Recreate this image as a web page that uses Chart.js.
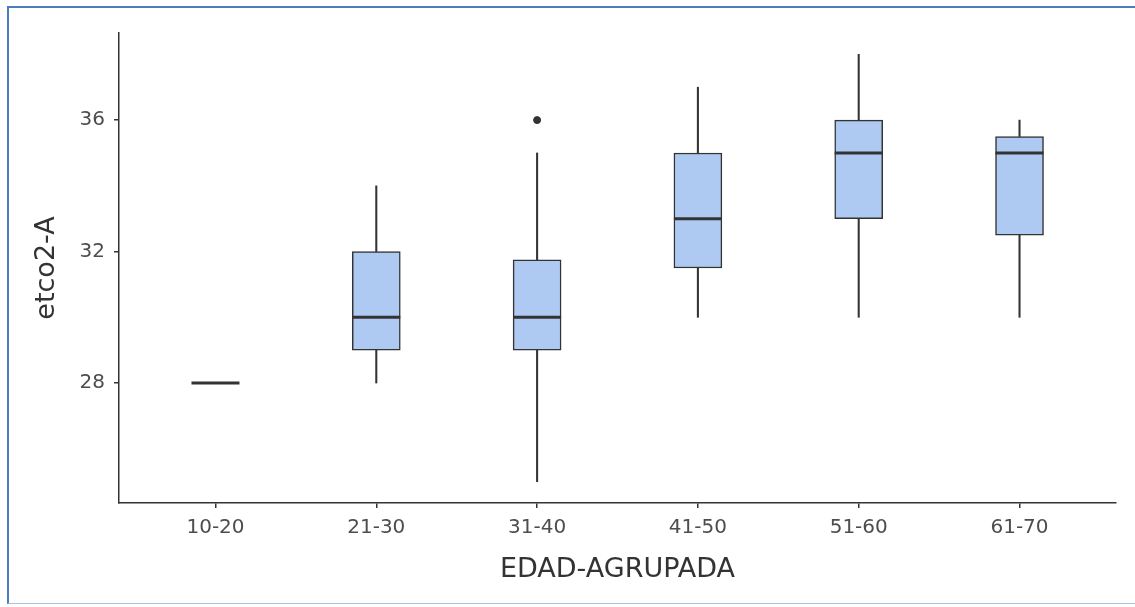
<!DOCTYPE html>
<html>
<head>
    <title>etco2-A por edad</title>
    <script src="https://cdn.jsdelivr.net/npm/chart.js"></script>
    <style>
        body {
            margin: 0;
            background: white;
        }
        .frame {
            position: absolute;
            left: 7px;
            top: 6px;
            width: 1128px;
            height: 598px;
            border-top: 2px solid #4a7ebb;
            border-left: 2px solid #4a7ebb;
            border-bottom: 1px solid #a9c4e2;
            box-sizing: border-box;
        }
        canvas {
            position: absolute;
            left: 0;
            top: 0;
        }
    </style>
</head>
<body>
    <div class="frame"></div>
    <canvas id="boxChart" width="1135" height="607"></canvas>
    <script>
        const grupos = ['10-20', '21-30', '31-40', '41-50', '51-60', '61-70'];
        const bigoteMin = [28, 28, 25, 30, 30, 30];
        const q1 = [28, 29, 29, 31.5, 33, 32.5];
        const mediana = [28, 30, 30, 33, 35, 35];
        const q3 = [28, 32, 31.75, 35, 36, 35.5];
        const bigoteMax = [28, 34, 35, 37, 38, 36];
        const atipicos = [{ grupo: '31-40', valor: 36 }];
        const yTicks = [28, 32, 36];

        const xPos = grupos.map((g, i) => i + 1);
        const ink = '#333333';

        // medianas: se dibujan encima de las cajas usando las escalas del grafico
        const medianPlugin = {
            id: 'medianas',
            afterDatasetsDraw(chart) {
                const ctx = chart.ctx;
                const xs = chart.scales.x, ys = chart.scales.y;
                const meta = chart.getDatasetMeta(2);
                ctx.save();
                ctx.strokeStyle = ink;
                ctx.lineWidth = 3;
                mediana.forEach((m, i) => {
                    const bar = meta.data[i];
                    const half = bar.width / 2;
                    const x = xs.getPixelForValue(xPos[i]);
                    const y = ys.getPixelForValue(m);
                    ctx.beginPath();
                    ctx.moveTo(x - half, y);
                    ctx.lineTo(x + half, y);
                    ctx.stroke();
                });
                ctx.restore();
            }
        };

        new Chart(document.getElementById('boxChart'), {
            type: 'bar',
            data: {
                datasets: [
                    {
                        label: 'bigote inferior',
                        data: xPos.map((x, i) => ({ x: x, y: [bigoteMin[i], q1[i]] })),
                        backgroundColor: ink,
                        barThickness: 1.4,
                        grouped: false,
                        order: 3
                    },
                    {
                        label: 'bigote superior',
                        data: xPos.map((x, i) => ({ x: x, y: [q3[i], bigoteMax[i]] })),
                        backgroundColor: ink,
                        barThickness: 1.4,
                        grouped: false,
                        order: 2
                    },
                    {
                        label: 'caja',
                        data: xPos.map((x, i) => ({ x: x, y: [q1[i], q3[i]] })),
                        backgroundColor: '#aec9f2',
                        borderColor: ink,
                        borderWidth: 1.5,
                        borderSkipped: false,
                        barThickness: 48,
                        grouped: false,
                        order: 1
                    },
                    {
                        type: 'scatter',
                        label: 'atipicos',
                        data: atipicos.map(a => ({ x: grupos.indexOf(a.grupo) + 1, y: a.valor })),
                        backgroundColor: ink,
                        borderColor: ink,
                        pointRadius: 3.5,
                        order: 0
                    }
                ]
            },
            options: {
                responsive: false,
                animation: false,
                layout: { padding: { left: 8, right: 19, top: 33, bottom: 0 } },
                plugins: {
                    legend: { display: false },
                    tooltip: { enabled: false }
                },
                scales: {
                    x: {
                        type: 'linear',
                        offset: false,
                        min: 0.4,
                        max: 6.6,
                        afterBuildTicks: s => { s.ticks = xPos.map(v => ({ value: v })); },
                        afterFit: s => { s.height = 104; },
                        ticks: {
                            callback: v => grupos[v - 1],
                            color: '#4d4d4d',
                            font: { family: 'DejaVu Sans', size: 20 },
                            padding: 8,
                            maxRotation: 0
                        },
                        grid: {
                            offset: false,
                            drawOnChartArea: false,
                            drawTicks: true,
                            tickLength: 5,
                            color: ink,
                            lineWidth: 1.5
                        },
                        border: { display: true, color: ink, width: 1.5 },
                        title: {
                            display: true,
                            text: 'EDAD-AGRUPADA',
                            color: '#333333',
                            font: { family: 'DejaVu Sans', size: 27 },
                            padding: { top: 0, bottom: 21 }
                        }
                    },
                    y: {
                        min: 24.35,
                        max: 38.65,
                        afterBuildTicks: s => { s.ticks = yTicks.map(v => ({ value: v })); },
                        afterFit: s => { s.width = 111; },
                        ticks: {
                            color: '#4d4d4d',
                            font: { family: 'DejaVu Sans', size: 20 },
                            padding: 9
                        },
                        grid: {
                            drawOnChartArea: false,
                            drawTicks: true,
                            tickLength: 5,
                            color: ink,
                            lineWidth: 1.5
                        },
                        border: { display: true, color: ink, width: 1.5 },
                        title: {
                            display: true,
                            text: 'etco2-A',
                            color: '#333333',
                            font: { family: 'DejaVu Sans', size: 27 },
                            padding: { top: 23, bottom: 23 }
                        }
                    }
                }
            },
            plugins: [medianPlugin]
        });
    </script>
</body>
</html>
